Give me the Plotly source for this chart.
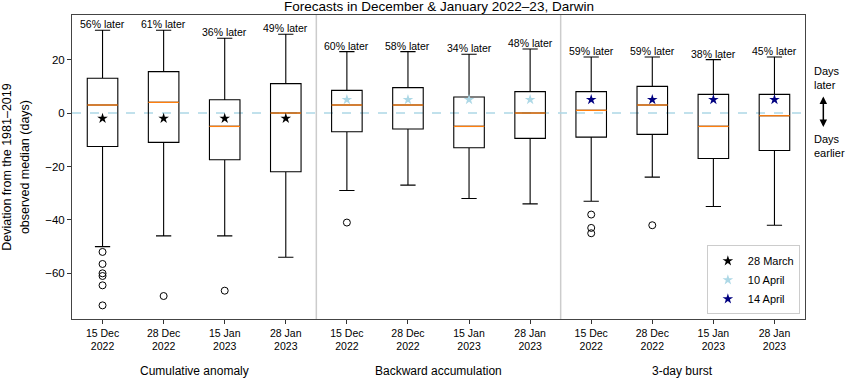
import plotly.graph_objects as go

# ---------------- data ----------------
positions = list(range(1, 13))
tick_labels = ["15 Dec<br>2022", "28 Dec<br>2022", "15 Jan<br>2023", "28 Jan<br>2023"] * 3
methods = ["Cumulative anomaly", "Backward accumulation", "3-day burst"]

upper_whisker = [31, 31, 28, 29.5, 23, 23, 22, 24, 21, 21, 20, 21]
q3_values = [13, 15.5, 5, 11, 8.5, 9.5, 6, 8, 8, 10, 7, 7]
median_values = [3, 4, -5, 0, 3, 3, -5, 0, 1, 3, -5, -1]
q1_values = [-12.5, -11, -17.5, -22, -7, -6, -13, -9.5, -9, -8, -17, -14]
lower_whisker = [-50, -46, -46, -54, -29, -27, -32, -34, -33, -24, -35, -42]
outliers = [
    [-52, -56.5, -60, -61, -64.5, -72], [-68.5], [-66.5], [],
    [-41], [], [], [],
    [-38, -43, -45], [-42], [], [],
]
pct_later = [56, 61, 36, 49, 60, 58, 34, 48, 59, 59, 38, 45]

onset_labels = ["28 March", "10 April", "14 April"]
onset_deviation = [-2, 5, 5]
onset_colors = ["black", "lightblue", "navy"]

BOX_W = 0.5
FONT = "Liberation Sans, Arial, sans-serif"

fig = go.Figure()

# boxes
fig.add_trace(go.Box(
    x=positions, q1=q1_values, median=median_values, q3=q3_values,
    lowerfence=lower_whisker, upperfence=upper_whisker,
    width=BOX_W, whiskerwidth=0.5, boxpoints=False,
    line=dict(color="black", width=1.1), fillcolor="rgba(0,0,0,0)",
    showlegend=False, hoverinfo="skip",
))

# orange medians
for p, m in zip(positions, median_values):
    fig.add_trace(go.Scatter(
        x=[p - BOX_W / 2, p + BOX_W / 2], y=[m, m], mode="lines",
        line=dict(color="#ff7f0e", width=1.3), showlegend=False, hoverinfo="skip",
    ))

# outliers
ox = [p for p, out in zip(positions, outliers) for _ in out]
oy = [v for out in outliers for v in out]
fig.add_trace(go.Scatter(
    x=ox, y=oy, mode="markers",
    marker=dict(symbol="circle-open", size=7, color="black", line=dict(width=1)),
    showlegend=False, hoverinfo="skip",
))

# observed onset stars
for g, (lab, dev, col) in enumerate(zip(onset_labels, onset_deviation, onset_colors)):
    xs = positions[4 * g:4 * g + 4]
    fig.add_trace(go.Scatter(
        x=xs, y=[dev] * len(xs), mode="markers", name=lab,
        marker=dict(symbol="star", size=8, color=col, line=dict(width=0)),
    ))

# percentage labels
for p, u, pc in zip(positions, upper_whisker, pct_later):
    fig.add_annotation(x=p, y=u, text=f"{pc}% later", showarrow=False,
                       yanchor="middle", yshift=6, font=dict(size=10.5, color="black"))

# group labels
for i, m in enumerate(methods):
    fig.add_annotation(x=2.5 + 4 * i, y=-0.172, xref="x", yref="paper", text=m,
                       showarrow=False, yanchor="middle", font=dict(size=12, color="black"))

# separators and zero line
for xv in [4.5, 8.5]:
    fig.add_shape(type="line", x0=xv, x1=xv, y0=0, y1=1, xref="x", yref="paper",
                  line=dict(color="#cccccc", width=1.5), layer="below")
fig.add_shape(type="line", x0=0, x1=1, y0=0, y1=0, xref="paper", yref="y",
              line=dict(color="lightblue", width=1.5, dash="dash"), layer="below")

# y title (two lines)
fig.add_annotation(x=-0.089, y=0.5, xref="paper", yref="paper", textangle=-90,
                   text="Deviation from the 1981–2019",
                   showarrow=False, xanchor="center", yanchor="middle",
                   font=dict(size=12.5, color="black"))
fig.add_annotation(x=-0.064, y=0.5, xref="paper", yref="paper", textangle=-90,
                   text="observed median (days)",
                   showarrow=False, xanchor="center", yanchor="middle",
                   font=dict(size=12.5, color="black"))

# title as annotation (keeps full glyphs inside the page)
fig.add_annotation(x=0.5, y=1, xref="paper", yref="paper", yanchor="bottom",
                   text="Forecasts in December & January 2022–23, Darwin",
                   showarrow=False, yshift=-1, font=dict(size=13.5, color="black"))

# right-side annotations
fig.add_annotation(x=1.009, y=13.2, xref="paper", yref="y", text="Days<br>later",
                   showarrow=False, xanchor="left", yanchor="middle", align="left",
                   font=dict(size=11, color="black"))
fig.add_annotation(x=1.009, y=-12.4, xref="paper", yref="y", text="Days<br>earlier",
                   showarrow=False, xanchor="left", yanchor="middle", align="left",
                   font=dict(size=11, color="black"))
fig.add_annotation(x=1.025, y=-5.2, xref="paper", yref="y", text="",
                   showarrow=True, ax=0, ay=-32, arrowside="end+start",
                   arrowhead=2, arrowsize=1, arrowwidth=1.5, arrowcolor="black")

fig.update_layout(
    width=847, height=380,
    margin=dict(l=72, r=42, t=15, b=61),
    paper_bgcolor="white", plot_bgcolor="white",
    font=dict(family=FONT, size=11, color="black"),
    xaxis=dict(range=[0.5, 12.5], tickvals=positions, ticktext=tick_labels,
               showgrid=False, zeroline=False, ticks="outside", ticklen=4,
               tickcolor="#333", showline=True, linecolor="#444", linewidth=1,
               mirror=True, tickfont=dict(size=10.5)),
    yaxis=dict(range=[-77.1, 36.7], tickvals=[-60, -40, -20, 0, 20],
               showgrid=False, zeroline=False, ticks="outside", ticklen=4,
               tickcolor="#333", showline=True, linecolor="#444", linewidth=1,
               mirror=True, tickfont=dict(size=11.5)),
    legend=dict(x=0.993, y=0.015, xanchor="right", yanchor="bottom",
                bgcolor="white", bordercolor="#cccccc", borderwidth=1,
                font=dict(size=11), itemwidth=30, tracegroupgap=0),
    showlegend=True,
)

fig.write_html("out.html", config={"displayModeBar": False},
               post_script="document.body.style.margin='0px';")
